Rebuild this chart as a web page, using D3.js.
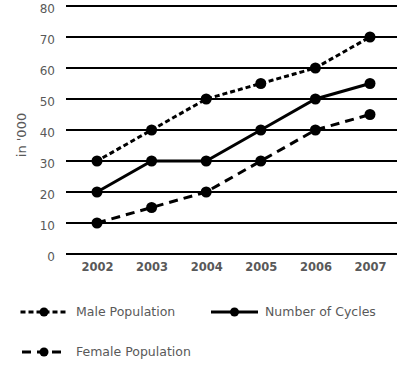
<!DOCTYPE html>
<html><head><meta charset="utf-8">
<script src="https://cdn.jsdelivr.net/npm/d3@7"></script>
<style>body{margin:0;background:#fff}svg{display:block}</style>
</head><body>
<script>
const years = ["2002","2003","2004","2005","2006","2007"];
const malePopulation = [30,40,50,55,60,70];
const numberOfCycles = [20,30,30,40,50,55];
const femalePopulation = [10,15,20,30,40,45];
const yTicks = [0,10,20,30,40,50,60,70,80];

const W=408,H=384;
const svg=d3.select("body").append("svg").attr("width",W).attr("height",H);
const font="'DejaVu Sans', sans-serif";
const grey="#595959";
const x=d3.scalePoint().domain(years).range([97,370]);
const y=d3.scaleLinear().domain([0,80]).range([254,6]);

// gridlines
svg.append("g").selectAll("line").data(yTicks).join("line")
  .attr("x1",66).attr("x2",397)
  .attr("y1",d=>y(d)).attr("y2",d=>y(d))
  .attr("stroke","#000").attr("stroke-width",2);

// y tick labels
const yAxis=svg.append("g").attr("transform","translate(55,3)")
  .call(d3.axisLeft(y).tickValues(yTicks).tickSize(0).tickPadding(0));
yAxis.select(".domain").remove();
yAxis.selectAll("text").attr("font-family",font).attr("font-size",12).attr("fill",grey);

// x tick labels
const xAxis=svg.append("g").attr("transform","translate(0,263)")
  .call(d3.axisBottom(x).tickSize(0).tickPadding(0));
xAxis.select(".domain").remove();
xAxis.selectAll("text").attr("font-family",font).attr("font-size",11.5).attr("fill",grey).attr("font-weight","bold");

svg.append("text").attr("transform","translate(26,135) rotate(-90)")
  .attr("text-anchor","middle").attr("font-family",font).attr("font-size",13).attr("fill",grey).text("in '000");

const series=[
  {name:"Male Population",vals:malePopulation,dash:"2,6"},
  {name:"Number of Cycles",vals:numberOfCycles,dash:null},
  {name:"Female Population",vals:femalePopulation,dash:"9,6"}
];
const line=d3.line().x((d,i)=>x(years[i])).y(d=>y(d));
series.forEach(s=>{
  const g=svg.append("g");
  g.append("path").datum(s.vals).attr("d",line).attr("fill","none")
    .attr("stroke","#000").attr("stroke-width",3)
    .attr("stroke-dasharray",s.dash).attr("stroke-linecap",s.dash==="2,6"?"square":"butt");
  g.selectAll("circle").data(s.vals).join("circle")
    .attr("cx",(d,i)=>x(years[i])).attr("cy",d=>y(d)).attr("r",5.5).attr("fill","#000");
});

// legend
const leg=[
  {s:series[0],x0:22,x1:66,ty:312,tx:76},
  {s:series[1],x0:211,x1:258,ty:312,tx:265},
  {s:series[2],x0:22,x1:66,ty:352,tx:76}
];
leg.forEach(l=>{
  const g=svg.append("g");
  g.append("line").attr("x1",l.x0).attr("x2",l.x1).attr("y1",l.ty).attr("y2",l.ty)
    .attr("stroke","#000").attr("stroke-width",3).attr("stroke-dasharray",l.s.dash)
    .attr("stroke-linecap",l.s.dash==="2,6"?"square":"butt");
  g.append("circle").attr("cx",(l.x0+l.x1)/2).attr("cy",l.ty).attr("r",4.5).attr("fill","#000");
  g.append("text").attr("x",l.tx).attr("y",l.ty).attr("dy","0.35em")
    .attr("font-family",font).attr("font-size",12.5).attr("fill",grey).text(l.s.name);
});
</script>
</body></html>
